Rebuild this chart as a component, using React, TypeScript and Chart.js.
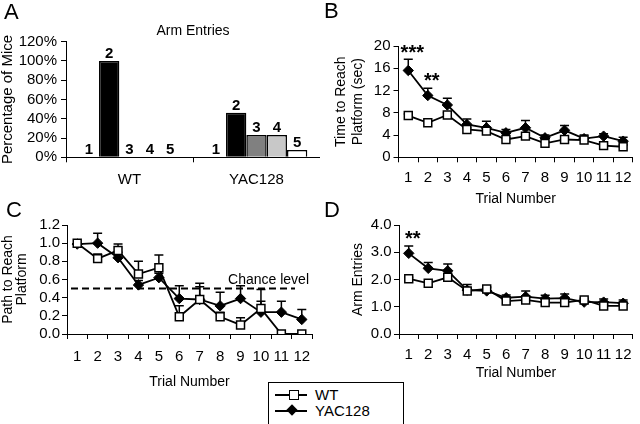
import React, { useEffect, useRef } from 'react';
import { Chart, registerables } from 'chart.js';
Chart.register(...registerables);

const FONT = "'Liberation Sans', Arial, Helvetica, sans-serif";
Chart.defaults.font.family = FONT;
Chart.defaults.color = '#000';

// ---------- Panel A: Arm entries distribution ----------
const armGroups = ['WT', 'YAC128'];
const armCountLabels = ['1', '2', '3', '4', '5'];
const pctArm1 = [0, 0];
const pctArm2 = [100, 46.2];
const pctArm3 = [0, 23.1];
const pctArm4 = [0, 23.1];
const pctArm5 = [0, 7.7];
const armColors = ['#ffffff', '#000000', '#808080', '#c8c8c8', '#ffffff'];

// ---------- Shared ----------
const trials = ['1', '2', '3', '4', '5', '6', '7', '8', '9', '10', '11', '12'];

// ---------- Panel B: time to reach platform (sec) ----------
const timeWT = [7.5, 6.2, 7.6, 5.0, 4.7, 3.2, 3.8, 2.5, 3.2, 3.1, 2.1, 1.9];
const timeWTErr = [0.3, 0.3, 0.4, 0.3, 0.3, 0.3, 0.3, 0.3, 0.3, 0.3, 0.3, 0.3];
const timeYAC = [15.6, 11.1, 9.4, 5.9, 5.3, 4.4, 5.3, 3.5, 4.85, 3.35, 3.8, 2.9];
const timeYACErr = [2.0, 1.3, 1.2, 1.0, 1.2, 0.6, 1.3, 0.5, 0.85, 0.65, 0.45, 0.7];

// ---------- Panel C: path to reach platform ----------
const pathWT = [1.0, 0.83, 0.92, 0.66, 0.73, 0.19, 0.38, 0.19, 0.10, 0.28, 0.0, 0.0];
const pathWTErr = [0, 0.05, 0.07, 0.14, 0.14, 0.12, 0.14, 0.05, 0.08, 0.21, 0, 0];
const pathYAC = [0.99, 1.0, 0.84, 0.54, 0.62, 0.39, 0.38, 0.31, 0.39, 0.24, 0.24, 0.16];
const pathYACErr = [0, 0.11, 0.06, 0.05, 0.05, 0.14, 0.18, 0.15, 0.14, 0.12, 0.12, 0.11];
const chanceLevel = 0.5;

// ---------- Panel D: arm entries ----------
const entriesWT = [2.03, 1.86, 2.08, 1.58, 1.65, 1.21, 1.25, 1.15, 1.15, 1.25, 1.03, 1.03];
const entriesWTErr = [0.05, 0.05, 0.1, 0.08, 0.08, 0.06, 0.06, 0.06, 0.06, 0.06, 0.06, 0.06];
const entriesYAC = [2.96, 2.41, 2.32, 1.61, 1.58, 1.33, 1.37, 1.30, 1.32, 1.17, 1.17, 1.13];
const entriesYACErr = [0.27, 0.21, 0.25, 0.21, 0.12, 0.10, 0.21, 0.12, 0.15, 0.1, 0.11, 0.12];

// significance marks: [trial index, y value, text]
const sigB: [number, number, string][] = [[0, 19.7, '***'], [1, 14.6, '**']];
const sigD: [number, number, string][] = [[0, 3.67, '**']];

const errorBarPlugin = {
  id: 'errorBars',
  beforeDatasetsDraw(chart: any) {
    const ctx = chart.ctx;
    const ys = chart.scales.y;
    chart.data.datasets.forEach((ds: any, i: number) => {
      if (!ds.errors) return;
      const meta = chart.getDatasetMeta(i);
      meta.data.forEach((pt: any, j: number) => {
        const e = ds.errors[j];
        if (!e) return;
        const top = ys.getPixelForValue(ds.data[j] + e);
        ctx.save();
        ctx.strokeStyle = '#000';
        ctx.lineWidth = 1.5;
        ctx.beginPath();
        ctx.moveTo(pt.x, pt.y);
        ctx.lineTo(pt.x, top);
        ctx.moveTo(pt.x - 4.5, top);
        ctx.lineTo(pt.x + 4.5, top);
        ctx.stroke();
        ctx.restore();
      });
    });
  },
};

function sigPlugin(marks: [number, number, string][]) {
  return {
    id: 'sig',
    afterDraw(chart: any) {
      const ctx = chart.ctx;
      ctx.save();
      ctx.font = `bold 20px ${FONT}`;
      ctx.fillStyle = '#000';
      ctx.textAlign = 'center';
      ctx.textBaseline = 'alphabetic';
      marks.forEach(([i, v, t]) => {
        const x = chart.scales.x.getPixelForValue(i) + 4;
        const y = chart.scales.y.getPixelForValue(v) + 11;
        ctx.fillText(t, x, y);
      });
      ctx.restore();
    },
  };
}

function lineDatasets(wt: number[], wtErr: number[], yac: number[], yacErr: number[]) {
  return [
    {
      label: 'WT', data: wt, errors: wtErr,
      borderColor: '#000', borderWidth: 1.8, backgroundColor: '#fff',
      pointStyle: 'rect', pointRadius: 5.6, pointBorderWidth: 1.5,
      pointBackgroundColor: '#fff', pointBorderColor: '#000', tension: 0,
    },
    {
      label: 'YAC128', data: yac, errors: yacErr,
      borderColor: '#000', borderWidth: 1.8, backgroundColor: '#000',
      pointStyle: 'rectRot', pointRadius: 5.2, pointBorderWidth: 1,
      pointBackgroundColor: '#000', pointBorderColor: '#000', tension: 0,
    },
  ];
}

function xTrialAxis(height: number, tickPad: number, titlePadBottom: number) {
  return {
    type: 'category',
    offset: true,
    grid: { offset: true, drawOnChartArea: false, drawTicks: true, tickLength: 5, color: '#000' },
    border: { display: true, color: '#000', width: 1 },
    ticks: { padding: tickPad, font: { size: 15 }, color: '#000', autoSkip: false, maxRotation: 0 },
    title: { display: true, text: 'Trial Number', font: { size: 14, lineHeight: 1.2 }, color: '#000', padding: { top: 0, bottom: titlePadBottom } },
    afterFit: (s: any) => { s.height = height; },
  };
}

function yAxis(o: { min: number; max: number; step: number; width: number; fmt: (v: number) => string; title: string | string[]; titleSize: number; titleLH: number; titlePad: number; tickPad: number }) {
  return {
    min: o.min, max: o.max,
    grid: { drawOnChartArea: false, drawTicks: true, tickLength: 5, color: '#000' },
    border: { display: true, color: '#000', width: 1 },
    ticks: { stepSize: o.step, autoSkip: false, padding: o.tickPad, font: { size: 15 }, color: '#000', callback: (v: any) => o.fmt(Number(v)) },
    title: { display: true, text: o.title, font: { size: o.titleSize, lineHeight: o.titleLH }, color: '#000', padding: { top: o.titlePad, bottom: 0 } },
    afterFit: (s: any) => { s.width = o.width; },
  };
}

function useChart(ref: React.RefObject<HTMLCanvasElement>, make: () => any) {
  useEffect(() => {
    if (!ref.current) return;
    const c = new Chart(ref.current, make());
    return () => c.destroy();
  }, []);
}

const barLabelPlugin = {
  id: 'barLabels',
  afterDatasetsDraw(chart: any) {
    const ctx = chart.ctx;
    ctx.save();
    ctx.font = `bold 15px ${FONT}`;
    ctx.fillStyle = '#000';
    ctx.textAlign = 'center';
    ctx.textBaseline = 'alphabetic';
    chart.data.datasets.forEach((ds: any, i: number) => {
      const meta = chart.getDatasetMeta(i);
      meta.data.forEach((bar: any) => {
        ctx.fillText(armCountLabels[i], bar.x, bar.y - 3);
      });
    });
    // panel title
    ctx.font = `14px ${FONT}`;
    const a = chart.chartArea;
    ctx.fillText('Arm Entries', (a.left + a.right) / 2, a.top - 7);
    ctx.restore();
  },
};

const chancePlugin = {
  id: 'chance',
  afterDatasetsDraw(chart: any) {
    const ctx = chart.ctx;
    const a = chart.chartArea;
    const y = chart.scales.y.getPixelForValue(chanceLevel);
    ctx.save();
    ctx.strokeStyle = '#000';
    ctx.lineWidth = 2;
    ctx.setLineDash([7, 4]);
    ctx.beginPath();
    ctx.moveTo(a.left + 4, y);
    ctx.lineTo(a.right - 17, y);
    ctx.stroke();
    ctx.setLineDash([]);
    ctx.font = `14px ${FONT}`;
    ctx.fillStyle = '#000';
    ctx.textAlign = 'right';
    ctx.textBaseline = 'alphabetic';
    ctx.fillText('Chance level', a.right - 3, y - 5);
    ctx.restore();
  },
};

export default function App() {
  const refA = useRef<HTMLCanvasElement>(null);
  const refB = useRef<HTMLCanvasElement>(null);
  const refC = useRef<HTMLCanvasElement>(null);
  const refD = useRef<HTMLCanvasElement>(null);

  useChart(refA, () => ({
    type: 'bar',
    data: {
      labels: armGroups,
      datasets: [pctArm1, pctArm2, pctArm3, pctArm4, pctArm5].map((d, i) => ({
        label: armCountLabels[i],
        data: d,
        backgroundColor: armColors[i],
        borderColor: '#000',
        borderWidth: (c: any) => (c.raw === 0 ? 0 : 1.5),
        categoryPercentage: 0.8,
        barPercentage: 1.0,
      })),
    },
    options: {
      animation: false, responsive: false, devicePixelRatio: 1,
      layout: { padding: { top: 41.7, right: 0, bottom: 0, left: 0 } },
      plugins: { legend: { display: false }, tooltip: { enabled: false } },
      scales: {
        x: {
          grid: { offset: true, drawOnChartArea: false, drawTicks: true, tickLength: 5, color: '#000' },
          border: { display: true, color: '#000', width: 1 },
          ticks: { padding: 8.7, font: { size: 15 }, color: '#000' },
          afterFit: (s: any) => { s.height = 42.7; },
        },
        y: yAxis({ min: 0, max: 120, step: 20, width: 66, fmt: (v) => v + '%', title: 'Percentage of Mice', titleSize: 15, titleLH: 1, titlePad: 0, tickPad: 4 }),
      },
    },
    plugins: [barLabelPlugin],
  }));

  useChart(refB, () => ({
    type: 'line',
    data: { labels: trials, datasets: lineDatasets(timeWT, timeWTErr, timeYAC, timeYACErr) },
    options: {
      animation: false, responsive: false, devicePixelRatio: 1,
      layout: { padding: { top: 46, right: 0, bottom: 0, left: 0 } },
      plugins: { legend: { display: false }, tooltip: { enabled: false } },
      scales: {
        x: xTrialAxis(52.7, 7, 2.6),
        y: yAxis({ min: 0, max: 20, step: 4, width: 78.5, fmt: (v) => String(v), title: ['Time to Reach', 'Platform (sec)'], titleSize: 14, titleLH: 1.2, titlePad: 13, tickPad: 3 }),
      },
    },
    plugins: [errorBarPlugin, sigPlugin(sigB)],
  }));

  useChart(refC, () => ({
    type: 'line',
    data: { labels: trials, datasets: lineDatasets(pathWT, pathWTErr, pathYAC, pathYACErr) },
    options: {
      animation: false, responsive: false, devicePixelRatio: 1,
      layout: { padding: { top: 15, right: 8, bottom: 0, left: 0 } },
      plugins: { legend: { display: false }, tooltip: { enabled: false } },
      scales: {
        x: xTrialAxis(90, 8.7, 33.9),
        y: yAxis({ min: 0, max: 1.2, step: 0.2, width: 67, fmt: (v) => v.toFixed(1), title: ['Path to Reach', 'Platform'], titleSize: 14, titleLH: 1, titlePad: 1.3, tickPad: 2 }),
      },
    },
    plugins: [errorBarPlugin, chancePlugin],
  }));

  useChart(refD, () => ({
    type: 'line',
    data: { labels: trials, datasets: lineDatasets(entriesWT, entriesWTErr, entriesYAC, entriesYACErr) },
    options: {
      animation: false, responsive: false, devicePixelRatio: 1,
      layout: { padding: { top: 15, right: 0, bottom: 0, left: 0 } },
      plugins: { legend: { display: false }, tooltip: { enabled: false } },
      scales: {
        x: xTrialAxis(90, 7, 42.3),
        y: yAxis({ min: 0, max: 4, step: 1, width: 79, fmt: (v) => v.toFixed(1), title: 'Arm Entries', titleSize: 14, titleLH: 1.2, titlePad: 30, tickPad: 2.3 }),
      },
    },
    plugins: [errorBarPlugin, sigPlugin(sigD)],
  }));

  const letter = (t: string, left: number, top: number) => (
    <div style={{ position: 'absolute', left, top, fontFamily: FONT, fontSize: 22, lineHeight: '22px', color: '#000' }}>{t}</div>
  );
  const cv = (ref: any, left: number, top: number, w: number, h: number) => (
    <canvas ref={ref} width={w} height={h} style={{ position: 'absolute', left, top, width: w, height: h }} />
  );

  return (
    <div style={{ position: 'fixed', left: 0, top: 0, width: 640, height: 424, background: '#fff', overflow: 'hidden' }}>
      {cv(refA, 0, 0, 320, 200)}
      {cv(refB, 320, 0, 320, 210)}
      {cv(refC, 0, 210, 320, 214)}
      {cv(refD, 320, 210, 320, 214)}
      {letter('A', 4, 1)}
      {letter('B', 324, 0)}
      {letter('C', 6, 199)}
      {letter('D', 324, 199)}
      <div style={{ position: 'absolute', left: 268, top: 382, width: 136, height: 50, border: '1.5px solid #000', boxSizing: 'border-box', background: '#fff', fontFamily: FONT, fontSize: 15, color: '#000' }}>
        <div style={{ position: 'absolute', left: 6, top: 11, width: 32, height: 2, background: '#000' }} />
        <div style={{ position: 'absolute', left: 20, top: 7, width: 8, height: 8, background: '#fff', border: '1.5px solid #000' }} />
        <div style={{ position: 'absolute', left: 46, top: 3, lineHeight: '18px' }}>WT</div>
        <div style={{ position: 'absolute', left: 6, top: 27, width: 32, height: 2, background: '#000' }} />
        <div style={{ position: 'absolute', left: 19, top: 23, width: 8, height: 8, background: '#000', transform: 'rotate(45deg)' }} />
        <div style={{ position: 'absolute', left: 46, top: 19, lineHeight: '18px' }}>YAC128</div>
      </div>
    </div>
  );
}
